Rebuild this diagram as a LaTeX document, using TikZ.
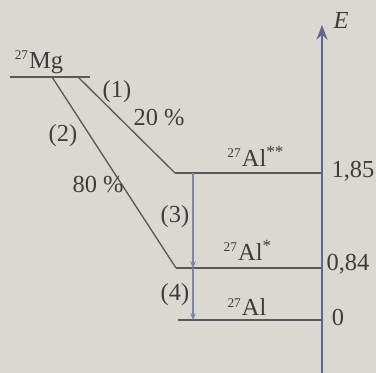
\documentclass[tikz,border=0pt]{standalone}
\usepackage{fontspec}
\setmainfont{Liberation Serif}
\usepackage{xcolor}
\definecolor{papier}{RGB}{218, 216, 208}
\definecolor{tinta}{RGB}{60, 60, 62}
\definecolor{eje}{RGB}{92, 104, 145}
\usetikzlibrary{arrows.meta}

\begin{document}
\begin{tikzpicture}[x=0.45pt, y=-0.45pt, >=Stealth,
    nivel/.style={thick, tinta!85},
    rama/.style={semithick, tinta!85},
    salto/.style={semithick, eje!80, -{Stealth[length=3pt, width=2.5pt]}},
    etiq/.style={font=\fontsize{11}{13}\selectfont, text=tinta, inner sep=1pt}]

% === Fondo ===
\fill[papier] (0,0) rectangle (376,373);
\useasboundingbox (0,0) rectangle (376,373);

% === Niveles ===
\coordinate (mgL) at (10,77);
\coordinate (mgR) at (90,77);
\coordinate (ini1) at (78,77);
\coordinate (ini2) at (52,77);
\coordinate (k2) at (175,173);
\coordinate (k1) at (176,268);
\coordinate (k0) at (178,320);
\coordinate (e2) at (322,173);
\coordinate (e1) at (322,268);
\coordinate (e0) at (322,320);
\coordinate (v2) at (193,173);
\coordinate (v1) at (193,268);
\coordinate (v0) at (193,320);

\draw[nivel] (mgL) -- (mgR);
\draw[nivel] (k2) -- (e2);
\draw[nivel] (k1) -- (e1);
\draw[nivel] (k0) -- (e0);

% Desintegraciones (1) y (2)
\draw[rama] (ini1) -- (k2);
\draw[rama] (ini2) -- (k1);

% Transiciones (3) y (4)
\draw[salto] (v2) -- (v1);
\draw[salto] (v1) -- (v0);

% === Eje de energia ===
\coordinate (ejeA) at (322,373);
\coordinate (ejeB) at (322,25);
\draw[->, thick, eje] (ejeA) -- (ejeB);
\node[etiq] (E) at (341,21) {\textit{E}};

% === Textos ===
\node[etiq] (mg) at (39,62) {{\small\textsuperscript{27}}Mg};
\node[etiq] (n1) at (117,92) {(1)};
\node[etiq] (p1) at (159,118) {20~\%};
\node[etiq] (n2) at (63,136) {(2)};
\node[etiq] (p2) at (98,185) {80~\%};
\node[etiq] (n3) at (175,217) {(3)};
\node[etiq] (n4) at (175,295) {(4)};
\node[etiq] (al2) at (256,156) {{\small\textsuperscript{27}}Al\textsuperscript{**}};
\node[etiq] (al1) at (248,250) {{\small\textsuperscript{27}}Al\textsuperscript{*}};
\node[etiq] (al0) at (247,307) {{\small\textsuperscript{27}}Al};
\node[etiq] (x2) at (353,171) {1,85};
\node[etiq] (x1) at (348,264) {0,84};
\node[etiq] (x0) at (338,317) {0};

\end{tikzpicture}
\end{document}
